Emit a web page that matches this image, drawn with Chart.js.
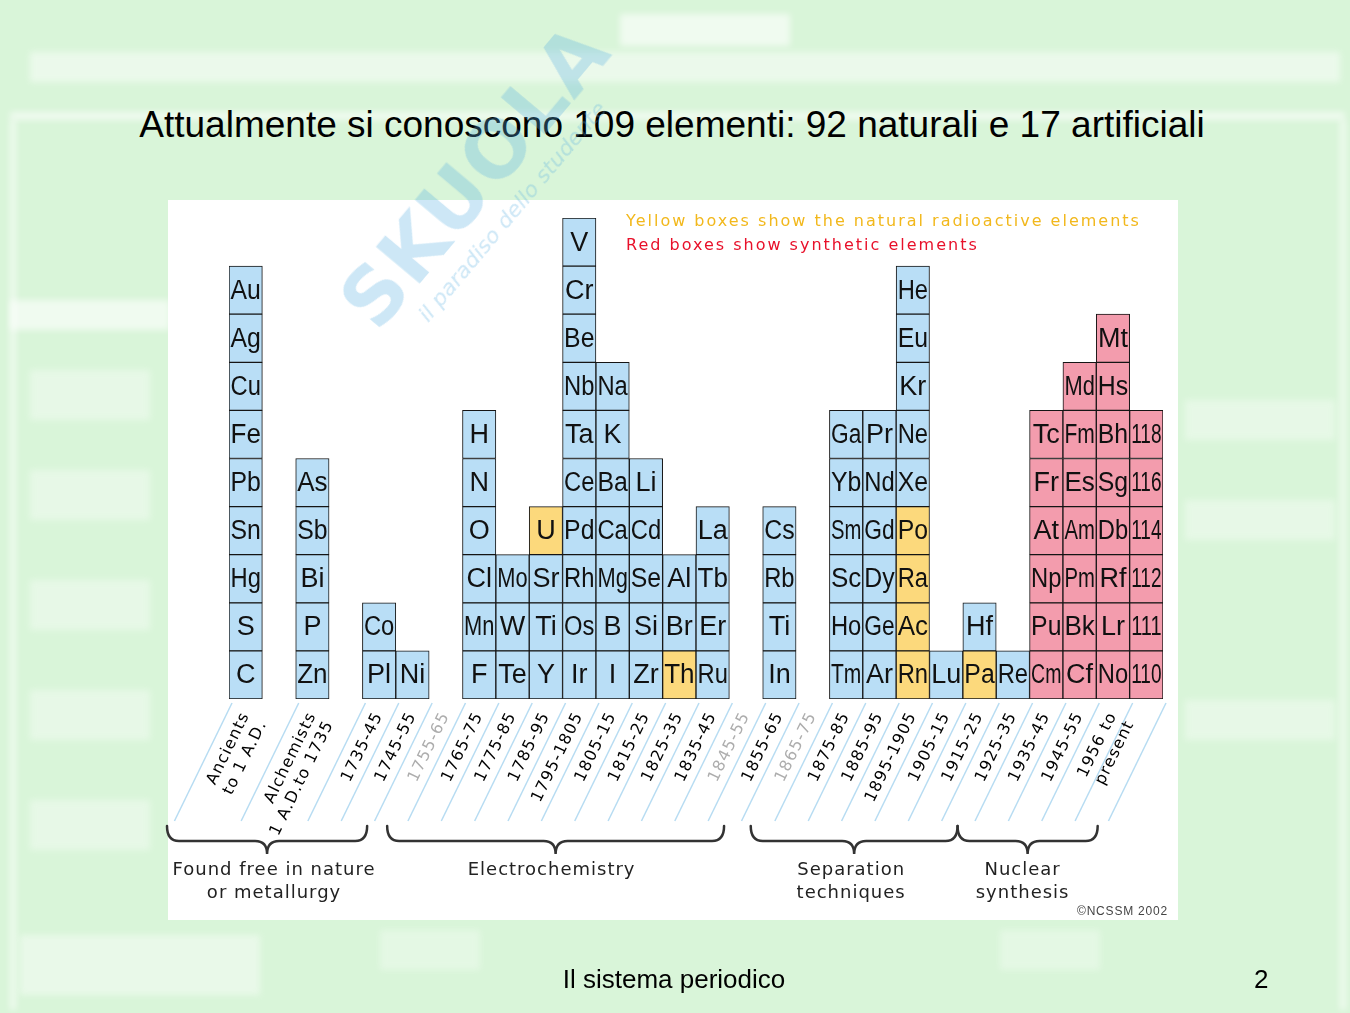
<!DOCTYPE html>
<html>
<head>
<meta charset="utf-8">
<script src="https://cdn.jsdelivr.net/npm/chart.js@4.4.0/dist/chart.umd.min.js"></script>
<style>
html, body { margin: 0; padding: 0; }
body {
    width: 1350px; height: 1013px; overflow: hidden; position: relative;
    background: #d9f5d9;
    font-family: "Liberation Sans", Arial, sans-serif;
}
.wm { position: absolute; background: rgba(255,255,255,0.6); filter: blur(3px); }
#panel { position: absolute; left: 168px; top: 200px; width: 1010px; height: 720px; background: #fff; }
#chart { position: absolute; left: 0; top: 0; }
#title {
    position: absolute; left: 0; top: 104px; width: 1344px; text-align: center;
    font-size: 37px; line-height: 42px; color: #000;
}
#footer {
    position: absolute; left: 0; top: 964px; width: 1348px; text-align: center;
    font-size: 26px; line-height: 30px; color: #000;
}
#page { position: absolute; left: 1254px; top: 964px; font-size: 26px; line-height: 30px; }
#logo {
    position: absolute; left: 300px; top: 130px; width: 360px; transform: rotate(-50deg);
    color: rgba(90,175,225,0.3); pointer-events: none; text-align: center;
}
#logo .big { font: bold 78px "DejaVu Sans", sans-serif; letter-spacing: 2px; }
#logo .small { font: italic 22px "DejaVu Sans", sans-serif; margin-top: -6px; }
</style>
</head>
<body>
<!-- sbiadito: tabella sullo sfondo della slide -->
<div class="wm" style="left:620px;top:14px;width:170px;height:32px"></div>
<div class="wm" style="left:30px;top:52px;width:1310px;height:30px;opacity:.8"></div>
<div class="wm" style="left:10px;top:112px;width:1335px;height:8px"></div>
<div class="wm" style="left:10px;top:300px;width:160px;height:30px"></div>
<div class="wm" style="left:10px;top:120px;width:6px;height:890px"></div>
<div class="wm" style="left:1340px;top:120px;width:6px;height:890px"></div>
<div class="wm" style="left:1185px;top:400px;width:150px;height:40px;opacity:.6"></div>
<div class="wm" style="left:1185px;top:500px;width:150px;height:40px;opacity:.6"></div>
<div class="wm" style="left:1185px;top:700px;width:150px;height:40px;opacity:.6"></div>
<div class="wm" style="left:20px;top:935px;width:240px;height:60px;opacity:.7"></div>
<div class="wm" style="left:380px;top:930px;width:100px;height:40px;opacity:.5"></div>
<div class="wm" style="left:1000px;top:930px;width:100px;height:40px;opacity:.5"></div>
<div class="wm" style="left:30px;top:370px;width:120px;height:50px;opacity:.6"></div>
<div class="wm" style="left:30px;top:470px;width:120px;height:50px;opacity:.6"></div>
<div class="wm" style="left:30px;top:580px;width:120px;height:50px;opacity:.6"></div>
<div class="wm" style="left:30px;top:690px;width:120px;height:50px;opacity:.6"></div>
<div class="wm" style="left:30px;top:800px;width:120px;height:50px;opacity:.6"></div>

<div id="title">Attualmente si conoscono 109 elementi: 92 naturali e 17 artificiali</div>
<div id="panel"></div>
<canvas id="chart" width="1350" height="1013"></canvas>
<div id="logo"><div class="big">SKUOLA</div><div class="small">il paradiso dello studente</div></div>
<div id="footer">Il sistema periodico</div>
<div id="page">2</div>

<script>
// periodi di scoperta (le stringhe vuote sono spaziatori)
const periods = [
    ["Ancients", "to 1 A.D."], "", ["Alchemists", "1 A.D.to 1735"], "",
    "1735-45", "1745-55", "1755-65", "1765-75", "1775-85", "1785-95",
    "1795-1805", "1805-15", "1815-25", "1825-35", "1835-45", "1845-55",
    "1855-65", "1865-75", "1875-85", "1885-95", "1895-1905", "1905-15",
    "1915-25", "1925-35", "1935-45", "1945-55", ["1956 to", "present"], ""
];

// elementi di ogni colonna, dal basso verso l'alto
const columns = [
    ["C", "S", "Hg", "Sn", "Pb", "Fe", "Cu", "Ag", "Au"],
    [],
    ["Zn", "P", "Bi", "Sb", "As"],
    [],
    ["Pl", "Co"],
    ["Ni"],
    [],
    ["F", "Mn", "Cl", "O", "N", "H"],
    ["Te", "W", "Mo"],
    ["Y", "Ti", "Sr", "U"],
    ["Ir", "Os", "Rh", "Pd", "Ce", "Ta", "Nb", "Be", "Cr", "V"],
    ["I", "B", "Mg", "Ca", "Ba", "K", "Na"],
    ["Zr", "Si", "Se", "Cd", "Li"],
    ["Th", "Br", "Al"],
    ["Ru", "Er", "Tb", "La"],
    [],
    ["In", "Ti", "Rb", "Cs"],
    [],
    ["Tm", "Ho", "Sc", "Sm", "Yb", "Ga"],
    ["Ar", "Ge", "Dy", "Gd", "Nd", "Pr"],
    ["Rn", "Ac", "Ra", "Po", "Xe", "Ne", "Kr", "Eu", "He"],
    ["Lu"],
    ["Pa", "Hf"],
    ["Re"],
    ["Cm", "Pu", "Np", "At", "Fr", "Tc"],
    ["Cf", "Bk", "Pm", "Am", "Es", "Fm", "Md"],
    ["No", "Lr", "Rf", "Db", "Sg", "Bh", "Hs", "Mt"],
    ["110", "111", "112", "114", "116", "118"]
];

const radioactive = ["U", "Th", "Po", "Ra", "Ac", "Rn", "Pa"];
const synthetic = ["Tc", "Fr", "At", "Np", "Pu", "Cm", "Md", "Fm", "Es", "Am", "Pm", "Bk", "Cf",
    "Mt", "Hs", "Bh", "Sg", "Db", "Rf", "Lr", "No", "118", "116", "114", "112", "111", "110"];

// gruppi sotto l'asse (in unita' di categoria)
const groupLabels = [["Found free in nature", "or metallurgy"], ["Electrochemistry"],
    ["Separation", "techniques"], ["Nuclear", "synthesis"]];
const groupFrom = [0, 6.6, 17.5, 23.7];
const groupTo = [6, 16.7, 23.7, 27.9];
const groupTextShift = [7, -4, -3, -5];

function boxColor(sym) {
    if (radioactive.includes(sym)) return "#fcd97c";
    if (synthetic.includes(sym)) return "#f39cad";
    return "#b9def6";
}

const maxLevel = Math.max(...columns.map(c => c.length));
const datasets = [];
for (let k = 0; k < maxLevel; k++) {
    datasets.push({
        label: "livello " + (k + 1),
        data: columns.map(c => (c.length > k ? 1 : null)),
        backgroundColor: ctx => boxColor(columns[ctx.dataIndex][k]),
        borderColor: "#151515",
        borderWidth: 1,
        borderSkipped: false,
        barPercentage: 1,
        categoryPercentage: 1,
    });
}

const ANGLE = 64;

const decor = {
    id: "decor",
    beforeDraw(chart) {
        const ctx = chart.ctx;
        const xs = chart.scales.x;
        const w = (xs.right - xs.left) / periods.length;
        const y0 = chart.chartArea.bottom + 4;
        const dy = 118;
        const dx = dy / Math.tan(ANGLE * Math.PI / 180);
        ctx.save();
        ctx.strokeStyle = "#b7dcf2";
        ctx.lineWidth = 1.5;
        for (let i = 0; i <= periods.length; i++) {
            // linee solo ai bordi delle categorie con etichetta
            if (i < periods.length && periods[i] === "" && i !== periods.length - 1) continue;
            const x = xs.left + i * w + 3;
            ctx.beginPath();
            ctx.moveTo(x, y0);
            ctx.lineTo(x - dx, y0 + dy);
            ctx.stroke();
        }
        ctx.restore();
        ctx.letterSpacing = "1.2px";
    },
    afterDatasetsDraw(chart) {
        const ctx = chart.ctx;
        ctx.save();
        ctx.letterSpacing = "0px";
        ctx.font = '27px "Liberation Sans", Arial, sans-serif';
        ctx.fillStyle = "#111";
        ctx.textAlign = "center";
        ctx.textBaseline = "middle";
        chart.data.datasets.forEach((ds, k) => {
            chart.getDatasetMeta(k).data.forEach((bar, i) => {
                const sym = columns[i][k];
                if (!sym) return;
                const p = bar.getProps(["x", "y", "base", "width"], true);
                ctx.fillText(sym, p.x, (p.y + p.base) / 2 + 1, p.width - 3);
            });
        });
        ctx.restore();
    },
    afterDraw(chart) {
        const ctx = chart.ctx;
        const xs = chart.scales.x;
        const w = (xs.right - xs.left) / periods.length;
        const shift = 62;
        ctx.save();
        // parentesi graffe
        ctx.strokeStyle = "#333";
        ctx.lineWidth = 2.5;
        ctx.lineCap = "round";
        groupLabels.forEach((lab, g) => {
            const x1 = xs.left + groupFrom[g] * w - shift;
            const x2 = xs.left + groupTo[g] * w - shift;
            const m = (x1 + x2) / 2, r = 12;
            const yTop = 826, yMid = 841, tip = 854;
            ctx.beginPath();
            ctx.moveTo(x1, yTop);
            ctx.quadraticCurveTo(x1, yMid, x1 + r, yMid);
            ctx.lineTo(m - r, yMid);
            ctx.quadraticCurveTo(m, yMid, m, tip);
            ctx.quadraticCurveTo(m, yMid, m + r, yMid);
            ctx.lineTo(x2 - r, yMid);
            ctx.quadraticCurveTo(x2, yMid, x2, yTop);
            ctx.stroke();

            ctx.fillStyle = "#222";
            ctx.font = '18px "DejaVu Sans", sans-serif';
            ctx.letterSpacing = "1px";
            ctx.textAlign = "center";
            ctx.textBaseline = "middle";
            lab.forEach((line, j) => ctx.fillText(line, m + groupTextShift[g], 870 + j * 23));
        });

        // legenda dei colori
        ctx.font = '16px "DejaVu Sans", sans-serif';
        ctx.letterSpacing = "2px";
        ctx.textAlign = "left";
        ctx.fillStyle = "#f2b81c";
        ctx.fillText("Yellow boxes show the natural radioactive elements", 626, 222);
        ctx.fillStyle = "#e8102a";
        ctx.fillText("Red boxes show synthetic elements", 626, 246);

        ctx.font = '12px "Liberation Sans", sans-serif';
        ctx.letterSpacing = "0.8px";
        ctx.fillStyle = "#444";
        ctx.fillText("\u00A9NCSSM 2002", 1077, 912);
        ctx.restore();
        ctx.letterSpacing = "0px";
    }
};

new Chart(document.getElementById("chart"), {
    type: "bar",
    data: { labels: periods, datasets: datasets },
    options: {
        responsive: false,
        animation: false,
        devicePixelRatio: 1,
        layout: { padding: { left: 229, right: 187, top: 218, bottom: 164 } },
        plugins: { legend: { display: false }, tooltip: { enabled: false } },
        scales: {
            x: {
                stacked: true,
                grid: { display: false },
                border: { display: false },
                afterFit: scale => { scale.height = 150; },
                ticks: {
                    autoSkip: false,
                    minRotation: ANGLE,
                    maxRotation: ANGLE,
                    padding: 2,
                    font: { family: "DejaVu Sans", size: 16 },
                    color: ctx => (columns[ctx.index] && columns[ctx.index].length === 0 ? "#adadad" : "#000"),
                },
            },
            y: { stacked: true, display: false, min: 0, max: maxLevel },
        },
    },
    plugins: [decor],
});
</script>
</body>
</html>
